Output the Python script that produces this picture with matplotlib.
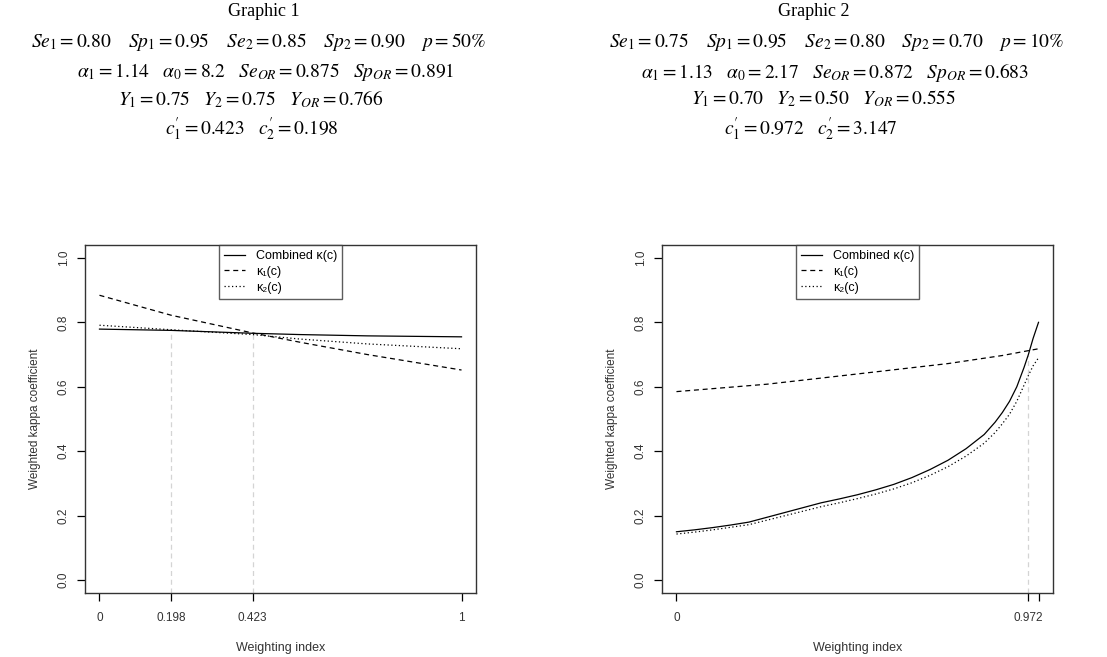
import matplotlib
matplotlib.use("Agg")
import matplotlib.pyplot as plt

plt.rcParams['font.family'] = ['Liberation Sans', 'DejaVu Sans']
plt.rcParams['mathtext.fontset'] = 'stix'

# ---- data ----
# Graphic 1
c_g1 = [0.0, 0.198, 0.423, 0.555, 0.74, 1.0]
comb_g1 = [0.779, 0.775, 0.766, 0.762, 0.758, 0.755]
k1_g1 = [0.884, 0.822, 0.767, 0.738, 0.700, 0.652]
k2_g1 = [0.791, 0.777, 0.762, 0.748, 0.733, 0.718]
cut_g1 = [0.198, 0.423]
xticks_g1 = [0, 0.198, 0.423, 1]
xlabels_g1 = ["0", "0.198", "0.423", "1"]

# Graphic 2
c_g2 = [0.0, 0.05, 0.1, 0.15, 0.2, 0.25, 0.3, 0.35, 0.4, 0.45, 0.5, 0.55, 0.6, 0.65, 0.7,
        0.75, 0.8, 0.85, 0.88, 0.9, 0.92, 0.94, 0.96, 0.972, 0.985, 1.0]
comb_g2 = [0.150, 0.156, 0.163, 0.171, 0.180, 0.195, 0.210, 0.225, 0.240, 0.252, 0.265,
           0.280, 0.297, 0.318, 0.343, 0.372, 0.408, 0.452, 0.490, 0.520, 0.555, 0.600,
           0.660, 0.700, 0.750, 0.800]
k2_g2 = [0.143, 0.149, 0.156, 0.164, 0.172, 0.186, 0.200, 0.214, 0.228, 0.240, 0.253,
         0.267, 0.283, 0.302, 0.325, 0.352, 0.385, 0.425, 0.458, 0.485, 0.515, 0.555,
         0.605, 0.635, 0.665, 0.690]
c1_g2 = [0.0, 0.25, 0.478, 0.75, 0.9, 1.0]
k1_g2 = [0.585, 0.608, 0.637, 0.672, 0.697, 0.718]
cut_g2 = [0.972]
xticks_g2 = [0, 0.972, 1]
xlabels_g2 = ["0", "0.972", ""]

yticks = [0.0, 0.2, 0.4, 0.6, 0.8, 1.0]

sp = r"\quad"
sp2 = r"\quad\;"
head_g1 = [
    "Graphic 1",
    rf"$Se_1=0.80{sp2}Sp_1=0.95{sp2}Se_2=0.85{sp2}Sp_2=0.90{sp2}p=50\%$",
    rf"$\alpha_1=1.14{sp}\alpha_0=8.2{sp}Se_{{OR}}=0.875{sp}Sp_{{OR}}=0.891$",
    rf"$Y_1=0.75{sp}Y_2=0.75{sp}Y_{{OR}}=0.766$",
    rf"$c_1^{{\prime}}=0.423{sp}c_2^{{\prime}}=0.198$",
]
head_g2 = [
    "Graphic 2",
    rf"$Se_1=0.75{sp2}Sp_1=0.95{sp2}Se_2=0.80{sp2}Sp_2=0.70{sp2}p=10\%$",
    rf"$\alpha_1=1.13{sp}\alpha_0=2.17{sp}Se_{{OR}}=0.872{sp}Sp_{{OR}}=0.683$",
    rf"$Y_1=0.70{sp}Y_2=0.50{sp}Y_{{OR}}=0.555$",
    rf"$c_1^{{\prime}}=0.972{sp}c_2^{{\prime}}=3.147$",
]

W, H = 1107, 657
fig = plt.figure(figsize=(W / 100, H / 100), dpi=100)


def panel(left, c, comb, ck1, k1, k2, cuts, xt, xl):
    ax = fig.add_axes([left / W, 64 / H, 391 / W, 348 / H])
    # grey guide lines from the bottom up to the combined curve
    for cc in cuts:
        yv = None
        for i in range(len(c) - 1):
            if c[i] <= cc <= c[i + 1]:
                t = (cc - c[i]) / (c[i + 1] - c[i])
                yv = comb[i] + t * (comb[i + 1] - comb[i])
        ax.plot([cc, cc], [-0.04, yv], color="#d4d4d4", lw=0.9, ls=(0, (4, 3)), zorder=1)
    ax.plot(c, comb, color="black", lw=0.9, ls="-", label="Combined κ(c)")
    ax.plot(ck1, k1, color="black", lw=0.9, ls=(0, (4, 3)), label="κ₁(c)")
    ax.plot(c, k2, color="black", lw=0.9, ls=(0, (1, 2)), label="κ₂(c)")
    ax.set_xlim(-0.04, 1.04)
    ax.set_ylim(-0.04, 1.04)
    ax.set_xticks(xt)
    ax.set_xticklabels(xl, fontsize=8.5, color="#333333")
    ax.set_yticks(yticks)
    ax.set_yticklabels([f"{v:.1f}" for v in yticks], fontsize=8.5, color="#333333",
                       rotation=90, va="center")
    ax.tick_params(direction="out", length=6, width=0.9, pad=5)
    ax.tick_params(axis="x", pad=8)
    for s in ax.spines.values():
        s.set_linewidth(1.0)
        s.set_color("#333333")
    ax.set_xlabel("Weighting index", fontsize=9, color="#333333", labelpad=13)
    ax.set_ylabel("Weighted kappa coefficient", fontsize=8.5, color="#333333", labelpad=12)
    leg = ax.legend(loc="upper center", prop={"size": 9}, frameon=True, fancybox=False,
                    borderaxespad=0, handlelength=1.7, handletextpad=0.9,
                    labelspacing=0.3, borderpad=0.4)
    leg.get_frame().set_edgecolor("#333333")
    leg.get_frame().set_linewidth(1.0)
    return ax


panel(85, c_g1, comb_g1, c_g1, k1_g1, k2_g1, cut_g1, xticks_g1, xlabels_g1)
panel(662, c_g2, comb_g2, c1_g2, k1_g2, k2_g2, cut_g2, xticks_g2, xlabels_g2)

line_y = [12, 42, 72, 99, 129]
xc_g1 = [264, 259, 266, 251, 252]
xc_g2 = [814, 837, 835, 824, 811]
for heads, xcs in ((head_g1, xc_g1), (head_g2, xc_g2)):
    for i, (txt, yy) in enumerate(zip(heads, line_y)):
        fig.text(xcs[i] / W, 1 - yy / H, txt, ha="center", va="center",
                 fontsize=13 if i == 0 else 14, family="Liberation Serif")

fig.savefig("out.png", dpi=100)
